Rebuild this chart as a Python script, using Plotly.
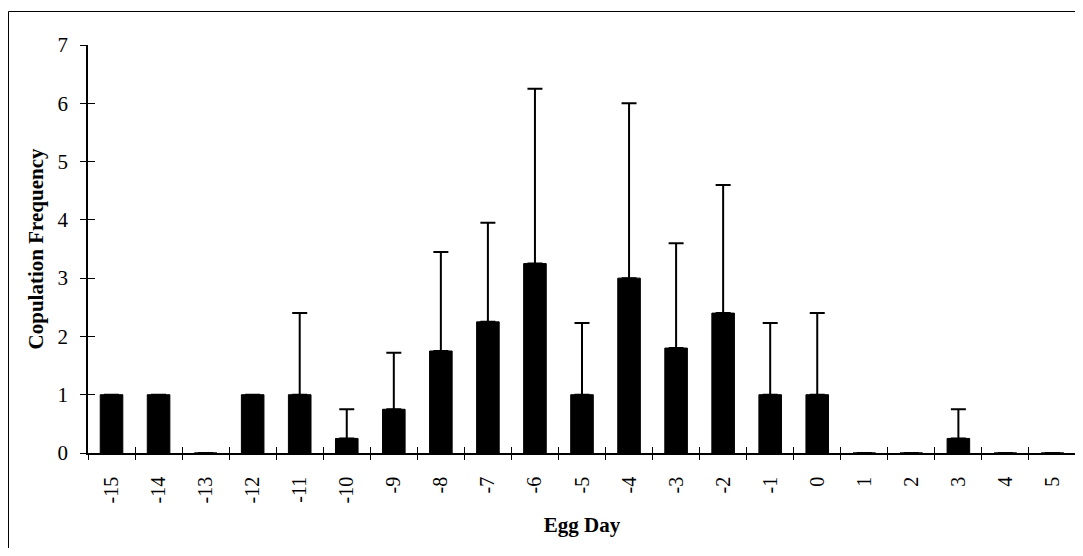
import plotly.graph_objects as go

days = list(range(-15, 6))
day_labels = [str(d) for d in days]
mean_freq = [1, 1, 0, 1, 1, 0.25, 0.75, 1.75, 2.25, 3.25, 1, 3, 1.8, 2.4, 1, 1, 0, 0, 0.25, 0, 0]
err_plus = [0, 0, 0, 0, 1.4, 0.5, 0.97, 1.7, 1.7, 3.0, 1.23, 3.0, 1.8, 2.2, 1.23, 1.4, 0, 0, 0.5, 0, 0]
y_ticks = [0, 1, 2, 3, 4, 5, 6, 7]
boundaries = [d - 0.5 for d in days] + [days[-1] + 0.5]

FONT = "Liberation Serif"

fig = go.Figure()
fig.add_trace(go.Bar(
    x=days, y=mean_freq, width=0.48,
    marker=dict(color="black", line=dict(color="black", width=1)),
    error_y=dict(type="data", array=err_plus, arrayminus=[0] * len(days),
                 symmetric=False, color="black", thickness=2, width=7.5),
    showlegend=False,
))
# invisible traces to activate overlay axes
fig.add_trace(go.Scatter(x=[days[0]], y=[0], xaxis="x2", yaxis="y2",
                         mode="markers", marker=dict(opacity=0), showlegend=False, hoverinfo="skip"))
fig.add_trace(go.Scatter(x=[days[0]], y=[0], xaxis="x3", yaxis="y3",
                         mode="markers", marker=dict(opacity=0), showlegend=False, hoverinfo="skip"))

xr = [days[0] - 0.5, days[-1] + 0.5]
yr = [0, 7]

fig.update_layout(
    width=1075, height=540,
    margin=dict(l=80, r=7, t=37, b=95),
    paper_bgcolor="white", plot_bgcolor="white",
    font=dict(family=FONT, color="black"),
    xaxis=dict(range=xr, tickvals=days, ticktext=day_labels, ticks="",
               tickangle=-90, tickfont=dict(size=20, family=FONT),
               ticklabelstandoff=14, automargin=False,
               showline=True, linecolor="black", linewidth=1.5,
               showgrid=False, zeroline=False,
               title=dict(text="<b>Egg Day</b>", font=dict(size=21, family=FONT))),
    xaxis2=dict(range=xr, overlaying="x", anchor="y", tickvals=boundaries,
                ticks="outside", ticklen=6, tickcolor="black", tickwidth=1, automargin=False,
                showticklabels=False, showline=False, showgrid=False, zeroline=False),
    xaxis3=dict(range=xr, overlaying="x", anchor="y", tickvals=boundaries,
                ticks="inside", ticklen=6, tickcolor="black", tickwidth=1, automargin=False,
                showticklabels=False, showline=False, showgrid=False, zeroline=False),
    yaxis=dict(range=yr, tickvals=y_ticks, ticks="outside", ticklen=6,
               tickcolor="black", tickwidth=1, automargin=False,
               tickfont=dict(size=21, family=FONT), ticklabelstandoff=8,
               showline=True, linecolor="black", linewidth=1.5,
               showgrid=False, zeroline=False,
               title=dict(text="<b>Copulation Frequency</b>", font=dict(size=21, family=FONT),
                          standoff=8)),
    yaxis2=dict(range=yr, overlaying="y", anchor="x", tickvals=y_ticks,
                ticks="outside", ticklen=6, tickcolor="black", tickwidth=1, automargin=False,
                showticklabels=False, showline=False, showgrid=False, zeroline=False),
    yaxis3=dict(range=yr, overlaying="y", anchor="x", tickvals=y_ticks,
                ticks="inside", ticklen=7, tickcolor="black", tickwidth=1, automargin=False,
                showticklabels=False, showline=False, showgrid=False, zeroline=False),
    shapes=[dict(type="rect", xref="paper", yref="paper",
                 x0=(0.5 - 80) / 988, x1=1.2, y0=-0.5, y1=(445 - 3.5) / 408,
                 line=dict(color="black", width=1), fillcolor="rgba(0,0,0,0)", layer="below")],
)

fig.write_html("out.html")
